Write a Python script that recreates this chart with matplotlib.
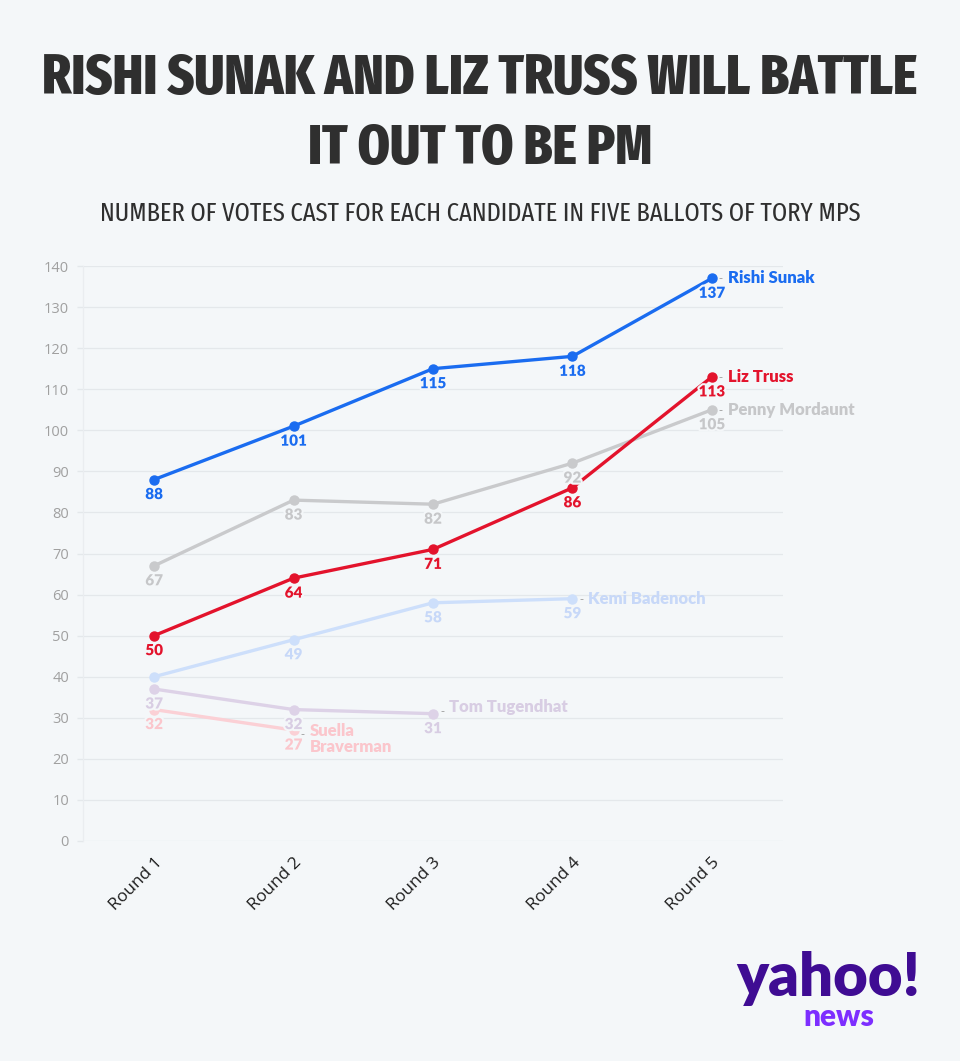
import matplotlib
matplotlib.use("Agg")
import matplotlib.pyplot as plt
import matplotlib.patheffects as pe
from matplotlib import font_manager as fm

# ---- data ----
rounds = ["Round 1", "Round 2", "Round 3", "Round 4", "Round 5"]
sunak = [88, 101, 115, 118, 137]
truss = [50, 64, 71, 86, 113]
mordaunt = [67, 83, 82, 92, 105]
badenoch = [40, 49, 58, 59]
tugendhat = [37, 32, 31]
braverman = [32, 27]

names = ["Rishi Sunak", "Liz Truss", "Penny Mordaunt", "Kemi Badenoch",
         "Tom Tugendhat", "Suella\nBraverman"]

title_lines = ["RISHI SUNAK AND LIZ TRUSS WILL BATTLE", "IT OUT TO BE PM"]
subtitle = "NUMBER OF VOTES CAST FOR EACH CANDIDATE IN FIVE BALLOTS OF TORY MPS"

# value labels not shown in the reference (hidden by overlap)
hidden_labels = {("Kemi Badenoch", 0)}

# ---- font selection (condensed family for headings) ----
avail = {}
for f in fm.fontManager.ttflist:
    avail.setdefault(f.name, set()).add((f.style, int(f.weight) if str(f.weight).isdigit() else 400))

cond_prefs = ["Fira Sans Extra Condensed", "Fira Sans Condensed", "Barlow Condensed",
              "Roboto Condensed", "Open Sans Condensed", "Sofia Sans Extra Condensed",
              "Sofia Sans Condensed", "Encode Sans Condensed", "Saira Extra Condensed",
              "Saira Condensed", "Archivo Narrow", "PT Sans Narrow", "Oswald",
              "Pathway Gothic One", "Liberation Sans"]
cond = next((n for n in cond_prefs if n in avail), "DejaVu Sans")
weights = sorted(w for s, w in avail.get(cond, {("normal", 400)}) if s == "normal")
def pick_w(target):
    if not weights:
        return 400
    return min(weights, key=lambda w: (abs(w - target), -w))
title_w = pick_w(800)
sub_w = pick_w(400)

BG = "#f4f7f9"
series = [
    # values, name, line colour, text colour, name offset(px), zorder
    (braverman, names[5], "#fbd0d5", "#fbc6cc", (16, -9), 2),
    (tugendhat, names[4], "#ddd2e7", "#d8cde3", (16, 7), 2),
    (badenoch, names[3], "#cddffb", "#c7d8f8", (16, 0), 3),
    (mordaunt, names[2], "#c9cacc", "#c6c7c9", (16, 0), 4),
    (truss, names[1], "#e3132c", "#e3132c", (16, 0), 5),
    (sunak, names[0], "#1a6cf0", "#1a6cf0", (16, 0), 6),
]

fig = plt.figure(figsize=(9.6, 10.61), dpi=100, facecolor=BG)
ax = fig.add_axes([83 / 960, 1 - 841 / 1061, 700 / 960, 575 / 1061])
ax.set_facecolor(BG)

x_all = list(range(len(rounds)))
halo = [pe.withStroke(linewidth=3, foreground=BG)]

for vals, name, lc, tc, noff, z in series:
    xs = x_all[:len(vals)]
    ax.plot(xs, vals, color=lc, lw=2.4, marker="o", ms=6.5, zorder=z,
            solid_capstyle="round")
    for xi, v in zip(xs, vals):
        if (name, xi) in hidden_labels:
            continue
        ax.annotate(str(v), (xi, v), xytext=(0, -15), textcoords="offset pixels",
                    ha="center", va="center", fontsize=11, fontweight="heavy",
                    family="Lato", color=tc, zorder=z + 10, path_effects=halo)
    lx, ly = xs[-1], vals[-1]
    ax.annotate("-", (lx, ly), xytext=(9, noff[1] * 0.4), textcoords="offset pixels",
                ha="center", va="center", fontsize=8, color="#9a9a9a", zorder=z + 10)
    ax.annotate(name, (lx, ly), xytext=noff, textcoords="offset pixels",
                ha="left", va="center", fontsize=12, fontweight="heavy",
                family="Lato", color=tc, zorder=z + 10, linespacing=0.95)

ax.set_xlim(-0.51, 4.51)
ax.set_ylim(0, 140)
ax.set_yticks(range(0, 141, 10))
ax.set_xticks(x_all)
ax.set_xticklabels(rounds, rotation=45, ha="right", rotation_mode="anchor",
                   fontsize=12.5, family="Open Sans", color="#1e1e1e")
for lab in ax.get_yticklabels():
    lab.set_family("Open Sans")
ax.tick_params(axis="y", colors="#e4e8eb", labelcolor="#a0a0a0", labelsize=10.5,
               length=4, width=1, pad=6)
ax.tick_params(axis="x", length=0, pad=10)
ax.grid(axis="y", color="#e4e8eb", lw=0.9, zorder=0)
ax.set_axisbelow(True)
for s in ["top", "right", "bottom"]:
    ax.spines[s].set_visible(False)
ax.spines["left"].set_color("#eaedf0")
ax.spines["left"].set_linewidth(0.9)

# ---- titles ----
t1 = fig.text(0.5, 1 - 79 / 1061, title_lines[0], ha="center", va="center",
              fontsize=40, fontweight=title_w, family=cond, color="#2f2f2f")
t2 = fig.text(0.5, 1 - 149 / 1061, title_lines[1], ha="center", va="center",
              fontsize=40, fontweight=title_w, family=cond, color="#2f2f2f")
st = fig.text(0.5, 1 - 214 / 1061, subtitle, ha="center", va="center",
              fontsize=18, fontweight=sub_w, family=cond, color="#2f2f2f")

# fit heading widths to the reference layout
fig.canvas.draw()
r = fig.canvas.get_renderer()
w1 = t1.get_window_extent(r).width
scale = 874.0 / w1
t1.set_fontsize(40 * scale)
t2.set_fontsize(40 * scale)
ws = st.get_window_extent(r).width
st.set_fontsize(18 * 760.0 / ws)

# ---- logo ----
fig.text(828 / 960, 1 - 979 / 1061, "yahoo!", ha="center", va="center",
         fontsize=43, fontweight="heavy", family="Lato", color="#3f0c93")
fig.text(839 / 960, 1 - 1017 / 1061, "news", ha="center", va="center",
         fontsize=21.5, fontweight="heavy", family="Lato", color="#7d2eff")

fig.savefig("out.png", dpi=100, facecolor=BG)
